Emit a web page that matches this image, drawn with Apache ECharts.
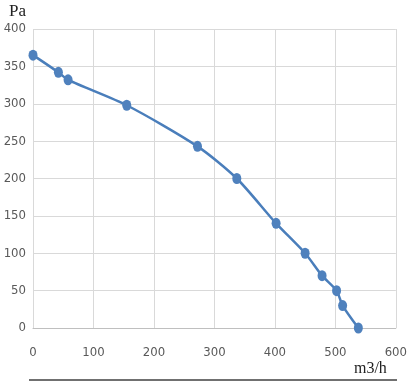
<!DOCTYPE html>
<html><head><meta charset="utf-8">
<script src="https://cdn.jsdelivr.net/npm/echarts@6/dist/echarts.min.js"></script>
<style>html,body{margin:0;padding:0;background:#fff}#c{width:410px;height:382px}</style>
</head><body><div id="c"></div>
<script>
const flow = [0, 42, 58, 155, 272, 337, 402, 450, 478, 502, 512, 538];
const pressure = [365, 342, 332, 298, 243, 200, 140, 100, 70, 50, 30, 0];
const xTicks = [0, 100, 200, 300, 400, 500, 600];
const yTicks = [0, 50, 100, 150, 200, 250, 300, 350, 400];
const xName = 'm3/h';
const yName = 'Pa';

const chart = echarts.init(document.getElementById('c'));
const lab = {color: '#595959', fontSize: 13, fontFamily: '"DejaVu Sans Condensed"'};
chart.setOption({
  animation: false,
  grid: {left: 33, right: 13, top: 29, bottom: 54},
  xAxis: {
    type: 'value', min: xTicks[0], max: xTicks[xTicks.length-1], interval: 100,
    axisLine: {show: true, lineStyle: {color: '#bfbfbf'}}, axisTick: {show: false},
    splitLine: {lineStyle: {color: '#d9d9d9'}},
    axisLabel: Object.assign({margin: 18}, lab),
    name: xName, nameLocation: 'end', nameGap: 0,
    nameTextStyle: {fontFamily: '"Liberation Serif",serif', fontSize: 16, color: '#222', align: 'right', verticalAlign: 'top', padding: [33, 9, 0, 0]}
  },
  yAxis: {
    type: 'value', min: yTicks[0], max: yTicks[yTicks.length-1], interval: 50,
    axisLine: {show: false}, axisTick: {show: false},
    splitLine: {lineStyle: {color: '#d9d9d9'}},
    axisLabel: Object.assign({margin: 7}, lab),
    name: yName, nameLocation: 'end', nameGap: 9,
    nameTextStyle: {fontFamily: '"Liberation Serif",serif', fontSize: 17, color: '#222', align: 'left', padding: [0, 0, 0, -24]}
  },
  series: [{
    type: 'line', data: flow.map((x, i) => [x, pressure[i]]),
    smooth: 0.25, symbol: 'circle', symbolSize: [9, 11],
    lineStyle: {color: '#4a7ebb', width: 2.5},
    itemStyle: {color: '#4f81bd'}
  }],
  graphic: [{type: 'line', shape: {x1: 29, y1: 380, x2: 397, y2: 380}, style: {stroke: '#404040', lineWidth: 1.5}}]
});
</script></body></html>
